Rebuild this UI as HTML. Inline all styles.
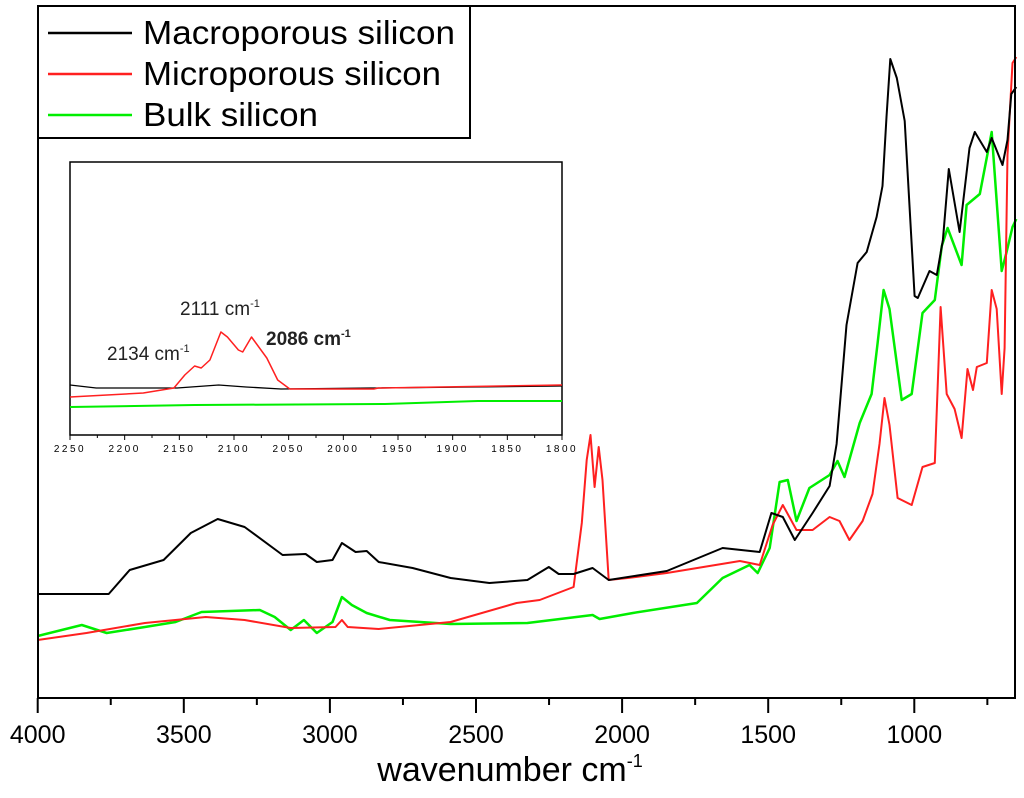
<!DOCTYPE html>
<html><head><meta charset="utf-8"><style>
html,body{margin:0;padding:0;background:#fff;}
svg{display:block;font-family:"Liberation Sans",Arial,sans-serif;}
</style></head><body>
<svg id="chart" width="1024" height="798" viewBox="0 0 1024 798" xmlns="http://www.w3.org/2000/svg">
<rect x="0" y="0" width="1024" height="798" fill="#fff"/>
<g id="main"></g>
<g id="inset"></g>
<g id="legend">
<rect x="38" y="6" width="432" height="132" fill="#fff" stroke="#000" stroke-width="2"/>
<line x1="48" y1="33" x2="132" y2="33" stroke="#000" stroke-width="2.5"/>
<text x="143" y="44" font-size="33" textLength="312" lengthAdjust="spacingAndGlyphs">Macroporous silicon</text>
<line x1="48" y1="74" x2="132" y2="74" stroke="#ff2020" stroke-width="2.5"/>
<text x="143" y="85" font-size="33" textLength="298" lengthAdjust="spacingAndGlyphs">Microporous silicon</text>
<line x1="48" y1="115" x2="132" y2="115" stroke="#00ee00" stroke-width="2.5"/>
<text x="143" y="126" font-size="33" textLength="175" lengthAdjust="spacingAndGlyphs">Bulk silicon</text>
</g>
</svg>
<script>
// Main chart data (wavenumber cm-1, absorbance a.u.)
const macroWn = [4000,3757,3685,3569,3476,3384,3292,3162,3083,3045,2991,2959,2912,2874,2833,2717,2587,2454,2324,2251,2217,2166,2101,2046,1847,1656,1529,1489,1450,1409,1348,1290,1266,1232,1194,1163,1129,1109,1095,1082,1060,1033,999,988,948,923,902,882,845,811,793,752,735,698,681,668,651];
const macroAbs = [103,103,127,137,164,178,170,142,143,135,137,154,145,146,135,129,119,114,117,130,123,123,129,117,126,149,145,184,180,157,184,211,253,372,434,445,480,511,580,638,619,576,401,399,426,422,457,528,465,549,565,545,559,532,557,603,610];
const microWn = [4000,3833,3633,3425,3292,3134,2981,2959,2939,2833,2587,2361,2282,2166,2138,2121,2108,2094,2080,2067,2046,1981,1847,1597,1529,1485,1450,1403,1348,1290,1256,1222,1177,1143,1119,1102,1085,1057,1009,972,930,920,910,889,862,838,818,799,786,752,735,718,701,691,681,664,651];
const microAbs = [57,64,74,80,77,69,70,77,70,68,75,94,97,110,174,237,262,210,250,217,117,119,124,136,132,172,192,167,167,180,176,157,176,203,253,299,272,199,192,230,234,311,390,303,288,259,328,307,330,334,407,388,303,349,542,634,640];
const bulkWn = [4000,3849,3764,3633,3528,3439,3240,3189,3134,3089,3045,2991,2959,2925,2874,2795,2587,2324,2101,2077,1963,1744,1656,1564,1536,1495,1461,1433,1403,1359,1290,1263,1239,1187,1146,1126,1105,1085,1043,1009,972,930,906,886,838,821,776,735,701,684,664,651];
const bulkAbs = [61,72,64,70,75,85,87,80,67,77,64,75,100,92,84,77,73,74,82,78,84,94,119,132,124,149,215,217,176,209,222,236,220,274,303,353,407,388,297,303,384,397,451,469,432,492,503,565,426,445,470,478];
// Inset data
const insetBlackWn = [2250,2226,2152,2114,2089,2057,1800];
const insetBlackAbs = [50,47,47,50,48,46,49];
const insetRedWn = [2250,2183,2155,2145,2136,2130,2122,2112,2106,2096,2092,2084,2070,2060,2049,1972,1968,1800];
const insetRedAbs = [38,42,47,60,69,67,75,103,98,85,83,98,77,55,46,46,47,50];
const insetGreenWn = [2250,2136,1962,1877,1800];
const insetGreenAbs = [28,30,31,34,34];
const mainTicks = [4000,3500,3000,2500,2000,1500,1000];
const mainMinor = [3750,3250,2750,2250,1750,1250,750];
const insetTicks = [2250,2200,2150,2100,2050,2000,1950,1900,1850,1800];

const NS = "http://www.w3.org/2000/svg";
function mk(tag, attrs, parent){const e=document.createElementNS(NS,tag);for(const k in attrs)e.setAttribute(k,attrs[k]);parent.appendChild(e);return e;}

const mx = wn => 37.7 + (4000 - wn) / 500 * 146.1;
const my = a => 697 - a;
const main = document.getElementById('main');
function drawLine(g, wns, vals, fx, fy, color, w, name){
  const d = wns.map((wn,i)=>(i?'L':'M')+fx(wn).toFixed(1)+','+fy(vals[i]).toFixed(1)).join(' ');
  const p = mk('path',{d:d,fill:'none',stroke:color,'stroke-width':w,'stroke-linejoin':'round'},g);
  
  
}
drawLine(main, bulkWn, bulkAbs, mx, my, '#00ee00', 2.5, 'series-bulk-silicon');
drawLine(main, microWn, microAbs, mx, my, '#ff2020', 2, 'series-microporous-silicon');
drawLine(main, macroWn, macroAbs, mx, my, '#000', 2, 'series-macroporous-silicon');
const frame = mk('rect',{x:38,y:6,width:977,height:692,fill:'none',stroke:'#000','stroke-width':2},main);


mainTicks.forEach(t=>{
  const l = mk('line',{x1:mx(t),x2:mx(t),y1:698,y2:713,stroke:'#000','stroke-width':2},main);
  
  
  const tx = mk('text',{x:mx(t),y:743,'font-size':25,'text-anchor':'middle'},main);
  tx.textContent = t;
  
  
});
mainMinor.forEach(t=>{
  const l = mk('line',{x1:mx(t),x2:mx(t),y1:698,y2:705,stroke:'#000','stroke-width':2},main);
  
  
});
const xt = mk('text',{x:510,y:781,'font-size':34,'text-anchor':'middle'},main);
xt.innerHTML = 'wavenumber cm<tspan dy="-14" font-size="18">-1</tspan>';



// inset
const ix = wn => 70 + (2250 - wn) / 450 * 492;
const iy = a => 435 - a;
const inset = document.getElementById('inset');
const ibg = mk('rect',{x:70,y:162,width:492,height:273,fill:'#fff',stroke:'#000','stroke-width':1.5},inset);


drawLine(inset, insetGreenWn, insetGreenAbs, ix, iy, '#00ee00', 2, 'inset-series-bulk');
drawLine(inset, insetBlackWn, insetBlackAbs, ix, iy, '#000', 1.3, 'inset-series-macroporous');
drawLine(inset, insetRedWn, insetRedAbs, ix, iy, '#ff2020', 1.5, 'inset-series-microporous');
insetTicks.forEach((t,i)=>{
  const l = mk('line',{x1:ix(t),x2:ix(t),y1:435,y2:440,stroke:'#000','stroke-width':1},inset);
  
  
  if(i<insetTicks.length-1){
    const m = mk('line',{x1:ix(t-25),x2:ix(t-25),y1:435,y2:438,stroke:'#000','stroke-width':1},inset);
    
    
  }
  const tx = mk('text',{x:ix(t),y:452,'font-size':10,'text-anchor':'middle','letter-spacing':'2.5'},inset);
  tx.textContent = t;
  
  
});
const ann = [['2111',180,315,'normal'],['2134',107,360,'normal'],['2086',266,345,'bold']];
ann.forEach(a=>{
  const tx = mk('text',{x:a[1],y:a[2],'font-size':19,'font-weight':a[3],fill:'#222'},inset);
  tx.innerHTML = a[0]+' cm<tspan dy="-8" font-size="11">-1</tspan>';
  
  
});
</script>
</body></html>
